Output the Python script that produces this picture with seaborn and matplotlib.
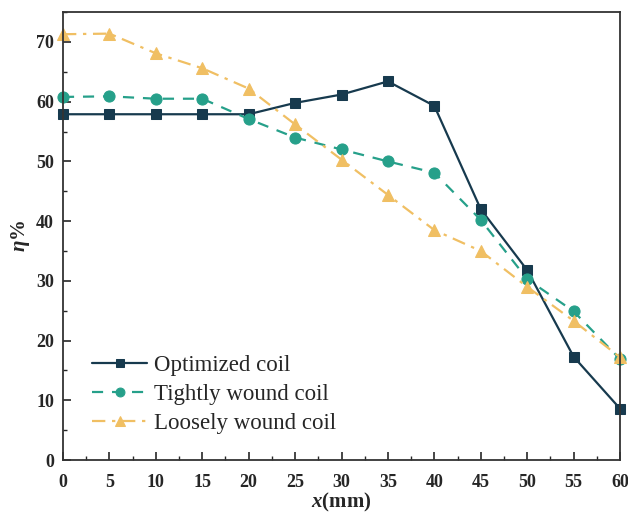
import matplotlib
matplotlib.use("Agg")
import matplotlib.pyplot as plt
import seaborn as sns
import pandas as pd
from matplotlib.ticker import MultipleLocator

sns.set_style("ticks")
plt.rcParams["font.family"] = ["Liberation Serif", "DejaVu Serif"]
plt.rcParams["mathtext.fontset"] = "custom"
plt.rcParams["mathtext.it"] = "Liberation Serif:italic:bold"
plt.rcParams["mathtext.rm"] = "Liberation Serif:bold"

x_mm = [0, 5, 10, 15, 20, 25, 30, 35, 40, 45, 50, 55, 60]
optimized = [57.9, 57.9, 57.9, 57.9, 57.9, 59.8, 61.2, 63.4, 59.3, 42.0, 31.8, 17.3, 8.6]
tightly = [60.8, 60.9, 60.5, 60.5, 57.1, 54.0, 52.0, 50.0, 48.1, 40.2, 30.3, 24.9, 16.9]
loosely = [71.3, 71.4, 68.1, 65.6, 62.2, 56.2, 50.3, 44.4, 38.5, 35.0, 29.0, 23.3, 17.2]
labels = ["Optimized coil", "Tightly wound coil", "Loosely wound coil"]

colors = ["#173a4e", "#26a08a", "#f0bf63"]
markers = ["s", "o", "^"]
dashes = ["-", (0, (5, 4)), (0, (6, 3, 1.5, 3))]
msizes = [7.5, 8, 8.5]

fig = plt.figure(figsize=(6.28, 5.16), dpi=100)
ax = fig.add_axes([0.1003, 0.1085, 0.887, 0.868])

for series, lab, c, m, ls, ms in zip([optimized, tightly, loosely], labels, colors, markers, dashes, msizes):
    df = pd.DataFrame({"x": x_mm, "eta": series})
    sns.lineplot(data=df, x="x", y="eta", ax=ax, color=c, marker=m, markersize=ms,
                 markeredgecolor=c, linestyle=ls, linewidth=1.6, label=lab, clip_on=False)

ax.set_xlim(0, 60)
ax.set_ylim(0, 75)
ax.xaxis.set_major_locator(MultipleLocator(5))
ax.xaxis.set_minor_locator(MultipleLocator(2.5))
ax.yaxis.set_major_locator(MultipleLocator(10))
ax.yaxis.set_minor_locator(MultipleLocator(5))
ax.tick_params(which="both", direction="in", top=False, right=False)
ax.tick_params(which="major", length=6, width=1.2, labelsize=13)
ax.tick_params(which="minor", length=3, width=1.0)
ax.tick_params(axis="x", which="major", pad=10)
ax.tick_params(axis="y", which="major", pad=6.5)
for lbl in ax.get_xticklabels() + ax.get_yticklabels():
    lbl.set_fontweight("bold")
for sp in ax.spines.values():
    sp.set_linewidth(1.3)
    sp.set_color("#333333")

ax.set_xlabel(r"$x$(mm)", fontsize=15, fontweight="bold", labelpad=0)
ax.set_ylabel(r"$\eta$%", fontsize=15, fontweight="bold", labelpad=3)

leg = ax.legend(loc="lower left", bbox_to_anchor=(0.024, 0.022), frameon=False,
                fontsize=16.5, handlelength=2.4, handletextpad=0.3, labelspacing=0.35,
                borderpad=0.2, markerscale=0.8)

fig.savefig("out.png", dpi=100)
